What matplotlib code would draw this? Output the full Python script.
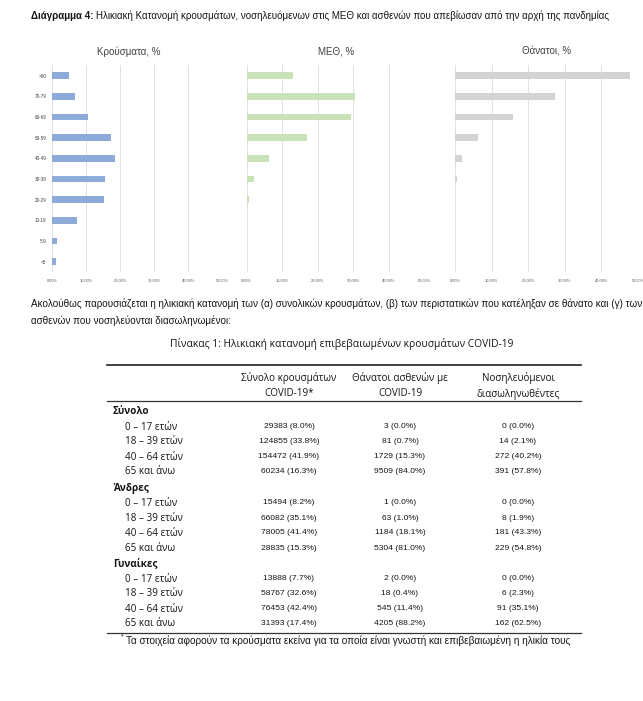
import matplotlib
matplotlib.use("Agg")
import matplotlib.pyplot as plt

plt.rcParams['font.family'] = ['Liberation Sans Narrow', 'Liberation Sans', 'DejaVu Sans']

# ---------------- data ----------------
age_groups = ['<5', '5-9', '10-19', '20-29', '30-39', '40-49', '50-59', '60-69', '70-79', '>80']
cases_pct = [1.2, 1.4, 7.2, 15.3, 15.5, 18.4, 17.2, 10.5, 6.7, 5.0]
icu_pct = [0.0, 0.0, 0.1, 0.65, 2.0, 6.2, 17.0, 29.5, 30.5, 13.1]
deaths_pct_chart = [0.0, 0.0, 0.0, 0.05, 0.6, 2.0, 6.3, 15.8, 27.2, 47.9]
panel_titles = ['Κρούσματα, %', 'ΜΕΘ, %', 'Θάνατοι, %']
x_ticks = [0, 10, 20, 30, 40, 50]
x_tick_labels = ['0,00%', '10,00%', '20,00%', '30,00%', '40,00%', '50,00%']

groups = ['Σύνολο', 'Άνδρες', 'Γυναίκες']
age_rows = ['0 – 17 ετών', '18 – 39 ετών', '40 – 64 ετών', '65 και άνω']
col_headers = [('Σύνολο κρουσμάτων', 'COVID-19*'),
               ('Θάνατοι ασθενών με', 'COVID-19'),
               ('Νοσηλευόμενοι', 'διασωληνωθέντες')]
cases_n = [[29383, 124855, 154472, 60234], [15494, 66082, 78005, 28835], [13888, 58767, 76453, 31393]]
cases_p = [[8.0, 33.8, 41.9, 16.3], [8.2, 35.1, 41.4, 15.3], [7.7, 32.6, 42.4, 17.4]]
deaths_n = [[3, 81, 1729, 9509], [1, 63, 1184, 5304], [2, 18, 545, 4205]]
deaths_p = [[0.0, 0.7, 15.3, 84.0], [0.0, 1.0, 18.1, 81.0], [0.0, 0.4, 11.4, 88.2]]
intub_n = [[0, 14, 272, 391], [0, 8, 181, 229], [0, 6, 91, 162]]
intub_p = [[0.0, 2.1, 40.2, 57.8], [0.0, 1.9, 43.3, 54.8], [0.0, 2.3, 35.1, 62.5]]

title_bold = 'Διάγραμμα 4:'
title_rest = 'Ηλικιακή Κατανομή κρουσμάτων, νοσηλευόμενων στις ΜΕΘ και ασθενών που απεβίωσαν από την αρχή της πανδημίας'
para1 = 'Ακολούθως παρουσιάζεται η ηλικιακή κατανομή των (α) συνολικών κρουσμάτων, (β) των περιστατικών που κατέληξαν σε θάνατο και (γ) των'
para2 = 'ασθενών που νοσηλεύονται διασωληνωμένοι:'
table_title = 'Πίνακας 1: Ηλικιακή κατανομή επιβεβαιωμένων κρουσμάτων COVID-19'
footnote = 'Τα στοιχεία αφορούν τα κρούσματα εκείνα για τα οποία είναι γνωστή και επιβεβαιωμένη η ηλικία τους'

# ---------------- figure helpers ----------------
W, H = 643, 701
fig = plt.figure(figsize=(W / 100, H / 100), dpi=100)
fig.patch.set_facecolor('white')
renderer = fig.canvas.get_renderer()
TXT = '#151515'
NARROW = ['Liberation Sans Narrow', 'Liberation Sans', 'DejaVu Sans']
WIDE = ['Open Sans', 'Noto Sans', 'DejaVu Sans']


def fx(x):
    return x / W


def fy(y):
    return 1 - y / H


def width_at10(s, weight='normal', family=NARROW):
    t = fig.text(0, 0, s, fontsize=10, fontweight=weight, family=family)
    w = t.get_window_extent(renderer=renderer).width
    t.remove()
    return w


def fit(s, target, weight='normal', family=NARROW):
    return 10 * target / width_at10(s, weight, family)


def put(x, y, s, size, ha='left', weight='normal', color=TXT, family=NARROW):
    return fig.text(fx(x), fy(y), s, fontsize=size, ha=ha, va='center_baseline',
                    fontweight=weight, color=color, family=family)


# ---------------- top title ----------------
tsize = fit(title_bold + ' ' + title_rest, 607 - 31)
tb = put(31, 15, title_bold, tsize, weight='bold')
wb = tb.get_window_extent(renderer=renderer).width
put(31 + wb + tsize * 0.35, 15, title_rest, tsize)

# ---------------- bar panels ----------------
panels = [(52, 222.5, cases_pct, '#8eaad8', 129),
          (246.5, 424, icu_pct, '#c9e2b8', 336),
          (455, 638, deaths_pct_chart, '#d3d3d3', 547)]
top, bottom = 65.3, 272
ptsize = fit(panel_titles[0], 64)
for i, (l, r, vals, col, tc) in enumerate(panels):
    ax = fig.add_axes([fx(l), fy(bottom), (r - l) / W, (bottom - top) / H])
    ax.barh(range(len(age_groups)), vals, height=0.33, color=col, zorder=3)
    ax.set_xlim(0, 50)
    ax.set_ylim(-0.5, len(age_groups) - 0.5)
    ax.set_xticks(x_ticks)
    ax.set_xticklabels(x_tick_labels, fontsize=2.9, color='#595959')
    ax.grid(axis='x', color='#dcdcdc', lw=0.6, zorder=0)
    ax.tick_params(length=0, pad=5)
    for s in ax.spines.values():
        s.set_visible(False)
    if i == 0:
        ax.set_yticks(range(len(age_groups)))
        ax.set_yticklabels(age_groups, fontsize=3.3, color='#404040')
        ax.tick_params(axis='y', pad=4)
    else:
        ax.set_yticks([])
    put(tc, 51, panel_titles[i], ptsize, ha='center', color='#404040')

# ---------------- paragraph ----------------
psize = fit(para2, 232 - 31)
put(31, 303, para1, psize)
put(31, 320, para2, psize)

# ---------------- table ----------------
put(342, 343, table_title, fit(table_title, 341, family=WIDE), ha='center', family=WIDE)
fs_num = fit('29383 (8.0%)', 51)
fs_txt = fit('Σύνολο κρουσμάτων', 96, family=WIDE)
xl, xr = 106.5, 581
fig.add_artist(plt.Line2D([fx(xl), fx(xr)], [fy(365), fy(365)], color='#333333', lw=1.3))
fig.add_artist(plt.Line2D([fx(xl), fx(xr)], [fy(401), fy(401)], color='#333333', lw=0.9))
fig.add_artist(plt.Line2D([fx(xl), fx(xr)], [fy(633), fy(633)], color='#333333', lw=0.9))

col_x = [289, 400, 518]
for cx, (h1, h2) in zip(col_x, col_headers):
    put(cx, 377, h1, fs_txt, ha='center', family=WIDE)
    put(cx, 392, h2, fs_txt, ha='center', family=WIDE)

group_y = [410, 486.5, 562]
for g, gy in enumerate(group_y):
    put(113, gy, groups[g], fs_txt, weight='bold', family=WIDE)
    for r in range(len(age_rows)):
        y = gy + 15.5 + 15 * r
        put(125, y, age_rows[r], fs_txt, family=WIDE)
        put(col_x[0], y, f'{cases_n[g][r]} ({cases_p[g][r]:.1f}%)', fs_num, ha='center')
        put(col_x[1], y, f'{deaths_n[g][r]} ({deaths_p[g][r]:.1f}%)', fs_num, ha='center')
        put(col_x[2], y, f'{intub_n[g][r]} ({intub_p[g][r]:.1f}%)', fs_num, ha='center')

fsz = fit(footnote, 570 - 126)
put(120.5, 636, '*', fsz * 0.7)
put(126, 640, footnote, fsz)

fig.savefig('out.png', dpi=100, facecolor='white')
